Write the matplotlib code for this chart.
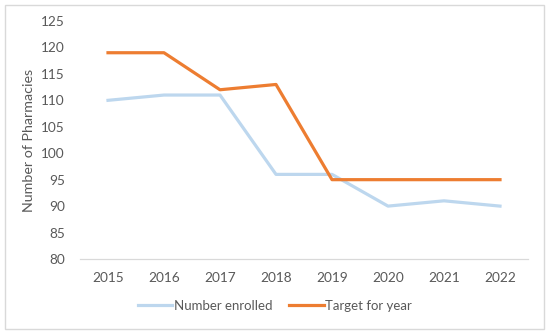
import matplotlib
matplotlib.use("Agg")
import matplotlib.pyplot as plt
from matplotlib.patches import Rectangle

years = ["2015", "2016", "2017", "2018", "2019", "2020", "2021", "2022"]
enrolled = [110, 111, 111, 96, 96, 90, 91, 90]
target = [119, 119, 112, 113, 95, 95, 95, 95]
yticks = [80, 85, 90, 95, 100, 105, 110, 115, 120, 125]

plt.rcParams['font.family'] = ['Lato', 'DejaVu Sans']
text_color = '#595959'

fig = plt.figure(figsize=(5.5, 3.34), dpi=100)
fig.patch.set_facecolor('white')
fig.patches.append(Rectangle((5/550, 1-329/334), 539/550, 324/334, transform=fig.transFigure,
                             fill=False, edgecolor='#D9D9D9', linewidth=1.0))

ax = fig.add_axes([80/550, 1-259/334, 448/550, 238/334])
x = list(range(len(years)))
ax.plot(x, enrolled, color='#BDD7EE', linewidth=2.3, label='Number enrolled', solid_joinstyle='round')
ax.plot(x, target, color='#ED7D31', linewidth=2.3, label='Target for year', solid_joinstyle='round')

ax.set_xlim(-0.5, len(years) - 0.5)
ax.set_ylim(80, 125)
ax.set_yticks(yticks)
ax.set_yticklabels([str(v) for v in yticks])
ax.set_xticks(x)
ax.set_xticklabels(years)
for s in ['top', 'right', 'left']:
    ax.spines[s].set_visible(False)
ax.spines['bottom'].set_color('#D9D9D9')
ax.spines['bottom'].set_linewidth(0.9)
ax.tick_params(axis='both', length=0, labelsize=9.8, colors=text_color)
ax.tick_params(axis='x', pad=9)
ax.tick_params(axis='y', pad=11)
ax.set_ylabel('Number of Pharmacies', fontsize=10.3, color=text_color)
ax.yaxis.set_label_coords(-0.100, 0.5)

leg = fig.legend(loc='center', bbox_to_anchor=(0.5, 1-306/334), ncol=2, frameon=False,
                 fontsize=9.5, handlelength=2.6, handletextpad=0.1, columnspacing=1.3)
for t in leg.get_texts():
    t.set_color(text_color)

fig.savefig('out.png', dpi=100, facecolor='white')
